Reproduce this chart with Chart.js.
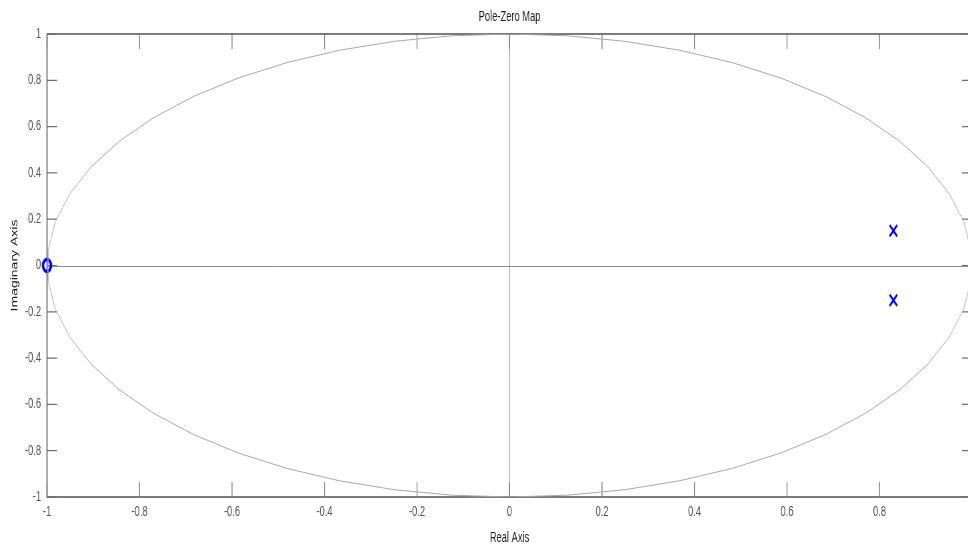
<!DOCTYPE html>
<html>
<head>
<meta charset="utf-8">
<script src="https://cdn.jsdelivr.net/npm/chart.js@4.4.1/dist/chart.umd.min.js"></script>
<style>
  html, body { margin: 0; padding: 0; background: #fff; overflow: hidden; width: 968px; height: 546px; }
  /* the figure is laid out wide and squeezed horizontally */
  #wrap { position: absolute; left: 0; top: 0; width: 1470px; height: 546px; transform: scaleX(0.666667); transform-origin: 0 0; }
  canvas { display: block; }
</style>
</head>
<body>
<div id="wrap"><canvas id="pz" width="1470" height="546"></canvas></div>
<script>
// System zeros and poles (real / imaginary parts)
const zeroRe = [-1];
const zeroIm = [0];
const poleRe = [0.83, 0.83];
const poleIm = [0.15, -0.15];

// Axis limits and tick spacing
const realRange = [-1, 1];
const imagRange = [-1, 1];
const tickStep = 0.2;

// |z| = 1 reference circle drawn as a 50-segment polygon
const CIRCLE_SEGMENTS = 50;
const unitCircle = [];
for (let k = 0; k <= CIRCLE_SEGMENTS; k++) {
  const t = (k + 0.5) * 2 * Math.PI / CIRCLE_SEGMENTS;
  unitCircle.push({ x: Math.cos(t), y: Math.sin(t) });
}

const zeros = zeroRe.map((re, i) => ({ x: re, y: zeroIm[i] }));
const poles = poleRe.map((re, i) => ({ x: re, y: poleIm[i] }));

const FONT = '"Liberation Sans", Arial, Helvetica, sans-serif';
const fmt = v => String(Number(v.toFixed(1)));

// Box, inward tick marks and the two zero lines
const axesFrame = {
  id: 'axesFrame',
  beforeDatasetsDraw(chart) {
    const { ctx, chartArea: a, scales: { x, y } } = chart;
    ctx.save();
    // zero lines
    ctx.strokeStyle = '#8c8c8c';
    ctx.lineWidth = 1;
    const x0 = x.getPixelForValue(0);
    const y0 = y.getPixelForValue(0);
    ctx.beginPath();
    ctx.moveTo(a.left, Math.round(y0) + 0.5);
    ctx.lineTo(a.right, Math.round(y0) + 0.5);
    ctx.moveTo(x0, a.top);
    ctx.lineTo(x0, a.bottom);
    ctx.stroke();

    // tick marks pointing into the plot
    const TL = 15;
    ctx.strokeStyle = '#707070';
    ctx.lineWidth = 1.2;
    ctx.beginPath();
    x.ticks.forEach(t => {
      const px = x.getPixelForValue(t.value);
      ctx.moveTo(px, a.top); ctx.lineTo(px, a.top + TL);
      ctx.moveTo(px, a.bottom); ctx.lineTo(px, a.bottom - TL);
    });
    y.ticks.forEach(t => {
      const py = y.getPixelForValue(t.value);
      ctx.moveTo(a.left, py); ctx.lineTo(a.left + TL, py);
      ctx.moveTo(a.right, py); ctx.lineTo(a.right - TL, py);
    });
    ctx.stroke();

    // axes box
    ctx.strokeStyle = '#6e6e6e';
    ctx.lineWidth = 1.8;
    ctx.strokeRect(a.left, a.top, a.right - a.left, a.bottom - a.top);
    ctx.restore();
  }
};

new Chart(document.getElementById('pz'), {
  type: 'scatter',
  data: {
    datasets: [
      {
        label: 'unit circle',
        data: unitCircle,
        showLine: true,
        borderColor: '#a8a8a8',
        borderWidth: 1,
        pointRadius: 0,
        tension: 0
      },
      {
        label: 'zeros',
        data: zeros,
        pointStyle: 'circle',
        pointRadius: 6,
        borderWidth: 3.6,
        borderColor: '#0000ff',
        backgroundColor: 'rgba(0,0,0,0)',
        clip: false
      },
      {
        label: 'poles',
        data: poles,
        pointStyle: 'crossRot',
        pointRadius: 8,
        borderWidth: 2.6,
        borderColor: '#0000ff',
        clip: false
      }
    ]
  },
  options: {
    responsive: false,
    animation: false,
    devicePixelRatio: 1,
    layout: { padding: { left: 0, right: 12, top: 0, bottom: 0 } },
    plugins: {
      legend: { display: false },
      tooltip: { enabled: false },
      title: {
        display: true,
        text: 'Pole-Zero Map',
        fullSize: false,
        color: '#1a1a1a',
        font: { family: FONT, size: 14, weight: 'normal', lineHeight: 1.2 },
        padding: { top: 9, bottom: 8.2 }
      }
    },
    scales: {
      x: {
        type: 'linear',
        min: realRange[0],
        max: realRange[1],
        grid: { display: false, drawTicks: false },
        border: { display: false },
        ticks: {
          stepSize: tickStep,
          autoSkip: false,
          maxRotation: 0,
          color: '#505050',
          padding: 7,
          font: { family: FONT, size: 14 },
          callback: fmt
        },
        title: {
          display: true,
          text: 'Real Axis',
          color: '#1a1a1a',
          font: { family: FONT, size: 14, lineHeight: 1 },
          padding: { top: 0, bottom: 1 }
        },
        afterFit(s) { s.height = 49; }
      },
      y: {
        type: 'linear',
        min: imagRange[0],
        max: imagRange[1],
        grid: { display: false, drawTicks: false },
        border: { display: false },
        ticks: {
          stepSize: tickStep,
          autoSkip: false,
          color: '#505050',
          padding: 9,
          font: { family: FONT, size: 14 },
          callback: fmt
        },
        title: {
          display: true,
          text: 'Imaginary Axis',
          color: '#1a1a1a',
          font: { family: FONT, size: 14, lineHeight: 1.2 },
          padding: { top: 14, bottom: 0 }
        },
        afterFit(s) { s.width = 70.5; }
      }
    }
  },
  plugins: [axesFrame]
});
</script>
</body>
</html>
